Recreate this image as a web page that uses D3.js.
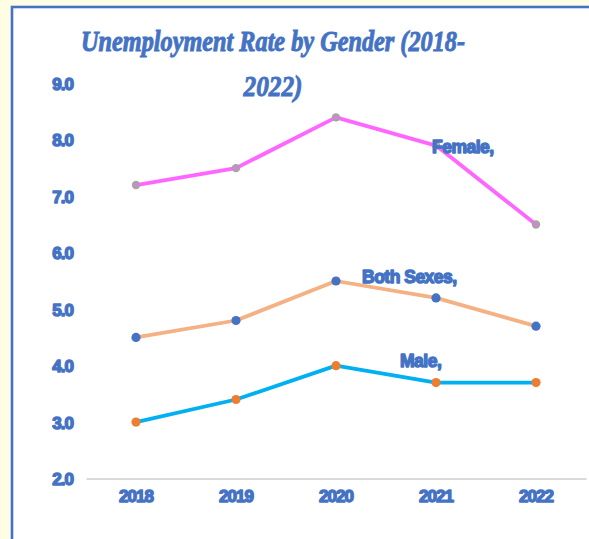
<!DOCTYPE html>
<html>
<head>
<meta charset="utf-8">
<script src="https://cdn.jsdelivr.net/npm/d3@7"></script>
<style>
  html, body { margin: 0; padding: 0; background: #fffde3; }
  svg { display: block; }
</style>
</head>
<body>
<svg id="chart" width="589" height="539"></svg>
<script>
// Unemployment rate (%) by gender, 2018–2022
const years = ["2018", "2019", "2020", "2021", "2022"];
const female = [7.2, 7.5, 8.4, 7.9, 6.5];
const bothSexes = [4.5, 4.8, 5.5, 5.2, 4.7];
const male = [3.0, 3.4, 4.0, 3.7, 3.7];
const yTicks = [2, 3, 4, 5, 6, 7, 8, 9];
const seriesNames = ["Female", "Both Sexes", "Male"];

const svg = d3.select("#chart");
const blue = "#4472c4";

// Chart frame
svg.append("rect")
  .attr("x", 12).attr("y", 7)
  .attr("width", 600).attr("height", 560)
  .attr("fill", "#ffffff")
  .attr("stroke", blue).attr("stroke-width", 2.6);

// Title (two lines)
const title = svg.append("text")
  .attr("text-anchor", "middle")
  .attr("fill", blue)
  .attr("stroke", blue)
  .attr("stroke-width", 1)
  .style("font-family", "'Liberation Serif', serif")
  .style("font-weight", "bold")
  .style("font-style", "italic")
  .style("font-size", "30px");
title.append("tspan").attr("x", 273).attr("y", 51)
  .attr("textLength", 384).attr("lengthAdjust", "spacingAndGlyphs")
  .text("Unemployment Rate by Gender (2018-");
title.append("tspan").attr("x", 273).attr("y", 96)
  .attr("textLength", 59).attr("lengthAdjust", "spacingAndGlyphs")
  .text("2022)");

// Scales
const x = d3.scaleBand().domain(years).range([86, 586]);
const y = d3.scaleLinear().domain([2, 9]).range([478.5, 83.5]);
const cx = d => x(d) + x.bandwidth() / 2;

const labelFont = (sel, size, spacing) => sel
  .style("font-family", "'Liberation Sans', Arial, sans-serif")
  .style("font-weight", "bold")
  .style("font-size", size + "px")
  .style("letter-spacing", spacing + "px")
  .attr("fill", blue)
  .attr("stroke", blue)
  .attr("stroke-width", 1.4)
  .attr("stroke-linejoin", "round")
  .attr("paint-order", "stroke");

// Y axis (labels only)
const yAxis = svg.append("g")
  .attr("transform", "translate(73,0)")
  .call(d3.axisLeft(y).tickValues(yTicks).tickFormat(d3.format(".1f")).tickSize(0).tickPadding(0));
yAxis.select(".domain").remove();
yAxis.selectAll("text").call(labelFont, 17, -1).attr("dy", "0.35em");

// X axis
const xAxis = svg.append("g")
  .attr("transform", `translate(0,${y(2)})`)
  .call(d3.axisBottom(x).tickSize(0).tickPadding(18));
xAxis.select(".domain").attr("stroke", "#d9d9d9").attr("stroke-width", 2.2);
xAxis.selectAll("text").call(labelFont, 17, -1).attr("dy", "0.35em");

// Series
const series = [
  { name: seriesNames[0], values: female, line: "#ff66ff", marker: "#a5a5a5", dot: "#ff66ff", r: 4.2 },
  { name: seriesNames[1], values: bothSexes, line: "#f4b183", marker: blue, dot: null, r: 4.6 },
  { name: seriesNames[2], values: male, line: "#00b0f0", marker: "#ed7d31", dot: null, r: 4.6 }
];

const line = d3.line()
  .x((d, i) => cx(years[i]))
  .y(d => y(d));

series.forEach(s => {
  svg.append("path")
    .datum(s.values)
    .attr("d", line)
    .attr("fill", "none")
    .attr("stroke", s.line)
    .attr("stroke-width", 3.8)
    .attr("stroke-linejoin", "round");

  svg.selectAll(null)
    .data(s.values)
    .join("circle")
    .attr("cx", (d, i) => cx(years[i]))
    .attr("cy", d => y(d))
    .attr("r", s.r)
    .attr("fill", s.marker);

  if (s.dot) {
    svg.selectAll(null)
      .data(s.values)
      .join("circle")
      .attr("cx", (d, i) => cx(years[i]))
      .attr("cy", d => y(d))
      .attr("r", 1.6)
      .attr("fill", s.dot);
  }
});

// Series labels, offset from each series' 2021 point
const seriesLabels = [
  { text: seriesNames[0] + ",", v: female[3], dx: -4, dy: 1 },
  { text: seriesNames[1] + ",", v: bothSexes[3], dx: -74, dy: -21 },
  { text: seriesNames[2] + ",", v: male[3], dx: -36, dy: -22 }
];
svg.selectAll(null)
  .data(seriesLabels)
  .join("text")
  .attr("x", d => cx(years[3]) + d.dx)
  .attr("y", d => y(d.v) + d.dy)
  .attr("dy", "0.35em")
  .attr("text-anchor", "start")
  .call(labelFont, 17.5, -0.5)
  .text(d => d.text);
</script>
</body>
</html>
